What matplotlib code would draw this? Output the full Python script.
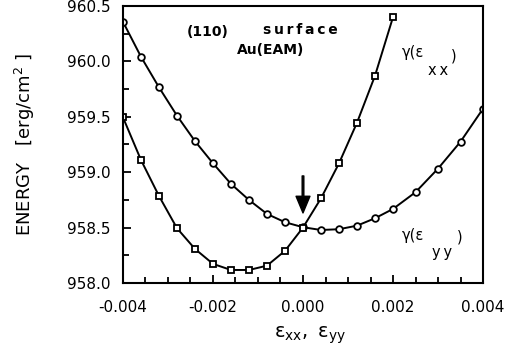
import matplotlib
matplotlib.use('Agg')
import matplotlib.pyplot as plt
from matplotlib.ticker import MultipleLocator, FormatStrFormatter

plt.rcParams['font.family'] = ['DejaVu Sans']
plt.rcParams['mathtext.fontset'] = 'dejavusans'

# gamma(eps_yy): circles
eps_yy = [-0.004, -0.0036, -0.0032, -0.0028, -0.0024, -0.0020, -0.0016, -0.0012,
          -0.0008, -0.0004, 0.0, 0.0004, 0.0008, 0.0012, 0.0016, 0.0020,
          0.0025, 0.0030, 0.0035, 0.0040]
gamma_yy = [960.358, 960.042, 959.766, 959.510, 959.280, 959.080, 958.894, 958.749,
            958.623, 958.548, 958.503, 958.478, 958.485, 958.517, 958.584, 958.668,
            958.819, 959.032, 959.275, 959.573]

# gamma(eps_xx): squares
eps_xx = [-0.004, -0.0036, -0.0032, -0.0028, -0.0024, -0.0020, -0.0016, -0.0012,
          -0.0008, -0.0004, 0.0, 0.0004, 0.0008, 0.0012, 0.0016, 0.0020]
gamma_xx = [959.495, 959.110, 958.785, 958.494, 958.307, 958.172, 958.117, 958.117,
            958.156, 958.290, 958.500, 958.764, 959.080, 959.447, 959.871, 960.400]

x_ticks = [-0.004, -0.002, 0.000, 0.002, 0.004]
y_ticks = [958.0, 958.5, 959.0, 959.5, 960.0, 960.5]

arrow_x = 0.0
arrow_top = 958.966
arrow_tip = 958.632

fig = plt.figure(figsize=(5.15, 3.55), dpi=100)
ax = fig.add_axes([0.2388, 0.203, 0.6991, 0.780])

ax.plot(eps_yy, gamma_yy, '-', color='black', lw=1.4, marker='o', ms=4.8,
        mfc='white', mec='black', mew=1.3)
ax.plot(eps_xx, gamma_xx, '-', color='black', lw=1.4, marker='s', ms=4.8,
        mfc='white', mec='black', mew=1.3)

ax.annotate('', xy=(arrow_x, arrow_tip), xytext=(arrow_x, arrow_top),
            arrowprops=dict(width=1.2, headwidth=10, headlength=12,
                            facecolor='black', edgecolor='black'))

ax.set_xlim(-0.004, 0.004)
ax.set_ylim(958.0, 960.5)
ax.set_xticks(x_ticks)
ax.set_yticks(y_ticks)
ax.xaxis.set_minor_locator(MultipleLocator(0.0005))
ax.yaxis.set_minor_locator(MultipleLocator(0.25))
ax.xaxis.set_major_formatter(FormatStrFormatter('%.3f'))
ax.yaxis.set_major_formatter(FormatStrFormatter('%.1f'))

ax.tick_params(which='both', direction='in', top=False, right=False, width=1.3)
ax.tick_params(which='major', length=6, labelsize=11)
ax.tick_params(axis='y', which='major', pad=9)
ax.tick_params(axis='x', which='major', pad=12)
ax.tick_params(which='minor', length=4)
for s in ax.spines.values():
    s.set_linewidth(1.5)

ax.set_ylabel(r'ENERGY   [erg/cm$^{2}$ ]', fontsize=13)
ax.yaxis.set_label_coords(-0.24, 0.5)
ax.set_xlabel(r'$\mathregular{ε_{xx},\ ε_{yy}}$', fontsize=14)
ax.xaxis.set_label_coords(0.52, -0.15)

ax.text(-0.002584, 960.268, '(110)', fontsize=10, fontweight='bold', va='center', ha='left')
ax.text(-0.000889, 960.283, 's\u2009u\u2009r\u2009f\u2009a\u2009c\u2009e', fontsize=10,
        fontweight='bold', va='center', ha='left')
ax.text(-0.001473, 960.103, 'Au(EAM)', fontsize=10, fontweight='bold', va='center', ha='left')

ax.text(0.002193, 960.076, 'γ(ε', fontsize=10.5, va='center', ha='left')
ax.text(0.002778, 959.922, 'x\u2009x', fontsize=10.5, va='center', ha='left')
ax.text(0.003289, 960.049, ')', fontsize=10.5, va='center', ha='left')

ax.text(0.002193, 958.424, 'γ(ε', fontsize=10.5, va='center', ha='left')
ax.text(0.00286, 958.271, 'y\u2009y', fontsize=10.5, va='center', ha='left')
ax.text(0.003416, 958.411, ')', fontsize=10.5, va='center', ha='left')

fig.savefig('out.png', dpi=100)
